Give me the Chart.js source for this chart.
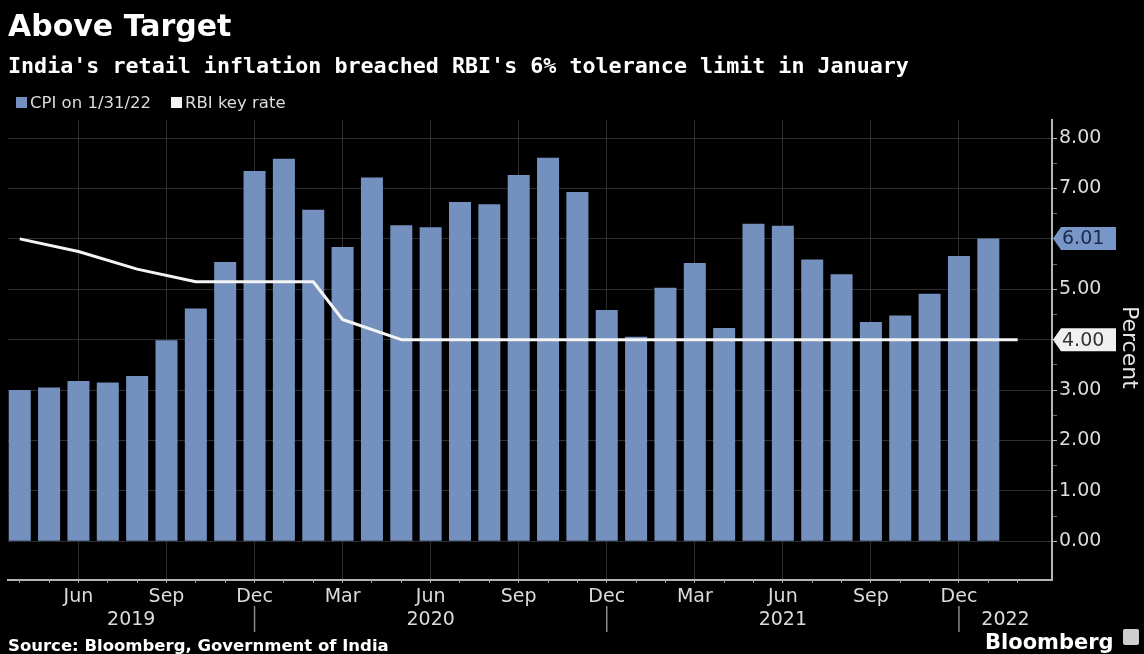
<!DOCTYPE html>
<html><head><meta charset="utf-8">
<script src="https://cdn.jsdelivr.net/npm/chart.js@4.4.1/dist/chart.umd.min.js"></script>
<style>
html,body{margin:0;padding:0;background:#000;}
#wrap{position:relative;width:1144px;height:654px;background:#000;overflow:hidden;}
#wrap canvas{position:absolute;left:0;top:0;}
.t{position:absolute;white-space:nowrap;line-height:1;color:#fff;}
.sq{display:inline-block;width:11px;height:11px;margin-right:3px;vertical-align:0px;}
</style></head><body>
<div id="wrap">
<canvas id="c" width="1144" height="654"></canvas>
<div class="t" style="left:8px;top:8px;font:bold 30px 'DejaVu Sans';">Above Target</div>
<div class="t" style="left:8px;top:53px;font:bold 21.7px 'DejaVu Sans Mono';">India's retail inflation breached RBI's 6% tolerance limit in January</div>
<div class="t" style="left:16px;top:93px;font:16.5px 'DejaVu Sans';color:#ddd;"><span class="sq" style="background:#7390BE"></span>CPI on 1/31/22<span class="sq" style="background:#f2f2f2;margin-left:20px;"></span>RBI key rate</div>
<div class="t" style="left:1118px;top:306px;font:22px 'DejaVu Sans';color:#e6e6e6;writing-mode:vertical-rl;">Percent</div>
<div class="t" style="left:8px;top:636px;font:bold 16.5px 'DejaVu Sans';">Source: Bloomberg, Government of India</div>
<div class="t" style="left:985px;top:630px;font:bold 21px 'DejaVu Sans';">Bloomberg</div>
<div style="position:absolute;left:1123px;top:629px;width:16px;height:16px;background:#cfcfcf;border-radius:2px;"></div>
</div>
<script>
const months = ['Apr 2019','May 2019','Jun 2019','Jul 2019','Aug 2019','Sep 2019','Oct 2019','Nov 2019','Dec 2019',
  'Jan 2020','Feb 2020','Mar 2020','Apr 2020','May 2020','Jun 2020','Jul 2020','Aug 2020','Sep 2020','Oct 2020','Nov 2020','Dec 2020',
  'Jan 2021','Feb 2021','Mar 2021','Apr 2021','May 2021','Jun 2021','Jul 2021','Aug 2021','Sep 2021','Oct 2021','Nov 2021','Dec 2021',
  'Jan 2022','Feb 2022'];
const cpi = [3.00, 3.05, 3.18, 3.15, 3.28, 3.99, 4.62, 5.54, 7.35,
  7.59, 6.58, 5.84, 7.22, 6.27, 6.23, 6.73, 6.69, 7.27, 7.61, 6.93, 4.59,
  4.06, 5.03, 5.52, 4.23, 6.30, 6.26, 5.59, 5.30, 4.35, 4.48, 4.91, 5.66,
  6.01, null];
const rbiRate = [6.00, null, 5.75, null, 5.40, null, 5.15, 5.15, 5.15,
  5.15, 5.15, 4.40, null, 4.00, 4.00, 4.00, 4.00, 4.00, 4.00, 4.00, 4.00,
  4.00, 4.00, 4.00, 4.00, 4.00, 4.00, 4.00, 4.00, 4.00, 4.00, 4.00, 4.00,
  4.00, 4.00];
const yTicks = [0, 0.5, 1, 1.5, 2, 2.5, 3, 3.5, 4, 4.5, 5, 5.5, 6, 6.5, 7, 7.5, 8];
const quarterMonths = ['Mar','Jun','Sep','Dec'];

const BAR = '#7390BE';
const LABEL = '#dcdcdc';
const GRID = '#2e2e2e';

const xMin = -0.40, xMax = 35.17, yMin = -0.77, yMax = 8.36;

const yearPlugin = {
  id: 'years',
  afterDraw(chart) {
    const x = chart.scales.x, ctx = chart.ctx;
    const decs = [];
    months.forEach((m, i) => { if (m.startsWith('Dec')) decs.push(i); });
    ctx.save();
    ctx.strokeStyle = '#8a8a8a';
    ctx.lineWidth = 1.5;
    decs.forEach(i => {
      const px = x.getPixelForValue(i);
      ctx.beginPath(); ctx.moveTo(px, 606); ctx.lineTo(px, 632); ctx.stroke();
    });
    const bounds = [xMin, ...decs, xMax];
    ctx.fillStyle = LABEL;
    ctx.font = "19px 'DejaVu Sans'";
    ctx.textAlign = 'center';
    ctx.textBaseline = 'middle';
    for (let k = 0; k < bounds.length - 1; k++) {
      const a = bounds[k], b = bounds[k + 1];
      const yr = months[Math.max(0, Math.round(a) + (k === 0 ? 0 : 1))].slice(4);
      const px = x.getPixelForValue((a + b) / 2);
      ctx.fillText(yr, px, 620);
    }
    ctx.restore();
  }
};

function lastVal(arr) { for (let i = arr.length - 1; i >= 0; i--) if (arr[i] != null) return arr[i]; return null; }

const tagPlugin = {
  id: 'tags',
  afterDraw(chart) {
    const y = chart.scales.y, ctx = chart.ctx;
    const x0 = chart.chartArea.right + 1;
    const tags = [
      { v: lastVal(rbiRate), fill: '#f0f0f0', text: '#333333' },
      { v: lastVal(cpi), fill: '#7896C8', text: '#1b2a48' }
    ];
    ctx.save();
    tags.forEach(t => {
      const py = y.getPixelForValue(t.v);
      const h = 11.5;
      ctx.fillStyle = t.fill;
      ctx.beginPath();
      ctx.moveTo(x0, py);
      ctx.lineTo(x0 + 8, py - h);
      ctx.lineTo(x0 + 63, py - h);
      ctx.lineTo(x0 + 63, py + h);
      ctx.lineTo(x0 + 8, py + h);
      ctx.closePath();
      ctx.fill();
      ctx.fillStyle = t.text;
      ctx.font = "19px 'DejaVu Sans'";
      ctx.textAlign = 'left';
      ctx.textBaseline = 'middle';
      ctx.fillText(t.v.toFixed(2), x0 + 9, py + 1);
    });
    ctx.restore();
  }
};

new Chart(document.getElementById('c'), {
  type: 'bar',
  data: {
    datasets: [
      {
        type: 'line',
        label: 'RBI key rate',
        data: rbiRate.map((v, i) => ({ x: i, y: v })),
        borderColor: '#f4f4f4',
        borderWidth: 3,
        pointRadius: 0,
        spanGaps: true,
        tension: 0,
        borderJoinStyle: 'round',
        order: 0
      },
      {
        type: 'bar',
        label: 'CPI on 1/31/22',
        data: cpi.map((v, i) => ({ x: i, y: v })),
        backgroundColor: BAR,
        borderWidth: 0,
        categoryPercentage: 1,
        barPercentage: 0.75,
        order: 1
      }
    ]
  },
  options: {
    responsive: false,
    animation: false,
    devicePixelRatio: 1,
    layout: { padding: { left: 8, top: 120, right: 0, bottom: 0 } },
    plugins: { legend: { display: false }, tooltip: { enabled: false } },
    scales: {
      x: {
        type: 'linear',
        min: xMin, max: xMax,
        offset: false,
        afterFit(s) { s.height = 74; },
        afterBuildTicks(s) { s.ticks = months.map((m, i) => ({ value: i })); },
        grid: {
          offset: false,
          color: (c) => {
            const m = c.tick && months[c.tick.value];
            return m && quarterMonths.includes(m.slice(0, 3)) ? GRID : 'rgba(0,0,0,0)';
          },
          tickColor: '#9a9a9a',
          tickLength: 3,
          drawTicks: true
        },
        border: { display: true, color: '#b5b5b5', width: 2 },
        ticks: {
          autoSkip: false,
          maxRotation: 0,
          padding: 3,
          color: LABEL,
          font: { family: 'DejaVu Sans', size: 19 },
          callback: (v) => {
            const m = months[v];
            if (!m) return '';
            const mn = m.slice(0, 3);
            return quarterMonths.includes(mn) ? mn : '';
          }
        }
      },
      y: {
        type: 'linear',
        position: 'right',
        min: yMin, max: yMax,
        afterFit(s) { s.width = 92; },
        afterBuildTicks(s) { s.ticks = yTicks.map(v => ({ value: v })); },
        grid: {
          color: (c) => (c.tick && Number.isInteger(c.tick.value)) ? GRID : 'rgba(0,0,0,0)',
          tickColor: (c) => (c.tick && Number.isInteger(c.tick.value)) ? '#b5b5b5' : '#6a6a6a',
          tickLength: 5,
          drawTicks: true
        },
        border: { display: true, color: '#b5b5b5', width: 2 },
        ticks: {
          padding: 2,
          color: LABEL,
          font: { family: 'DejaVu Sans', size: 19 },
          callback: (v) => Number.isInteger(v) ? v.toFixed(2) : ''
        }
      }
    }
  },
  plugins: [yearPlugin, tagPlugin]
});
</script>
</body></html>
